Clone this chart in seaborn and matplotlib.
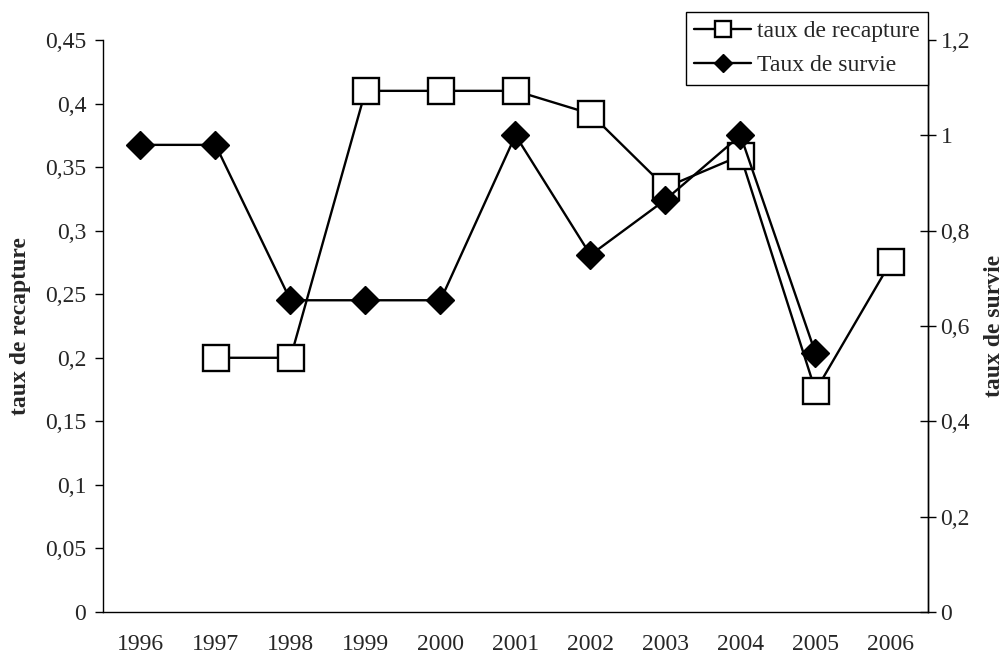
import numpy as np
import pandas as pd
import matplotlib
matplotlib.use("Agg")
import matplotlib.pyplot as plt
from matplotlib.ticker import FixedLocator
from matplotlib.lines import Line2D
import seaborn as sns

years = ["1996", "1997", "1998", "1999", "2000", "2001", "2002", "2003", "2004", "2005", "2006"]
recapture = [np.nan, 0.20, 0.20, 0.41, 0.41, 0.41, 0.392, 0.334, 0.359, 0.174, 0.275]
survie = [0.98, 0.98, 0.654, 0.654, 0.654, 1.0, 0.749, 0.865, 1.0, 0.543, np.nan]

left_ticks = [0, 0.05, 0.1, 0.15, 0.2, 0.25, 0.3, 0.35, 0.4, 0.45]
left_labels = ["0", "0,05", "0,1", "0,15", "0,2", "0,25", "0,3", "0,35", "0,4", "0,45"]
right_ticks = [0, 0.2, 0.4, 0.6, 0.8, 1.0, 1.2]
right_labels = ["0", "0,2", "0,4", "0,6", "0,8", "1", "1,2"]

sns.set_style("white")
plt.rcParams["font.family"] = ["Liberation Serif", "DejaVu Serif"]

FS = 17

df = pd.DataFrame({"pos": np.arange(len(years)), "year": years,
                   "recapture": recapture, "survie": survie})

fig = plt.figure(figsize=(10.06, 6.59), dpi=100)
ax = fig.add_axes([103 / 1006, 1 - 612 / 659, (928 - 103) / 1006, (612 - 40) / 659])
ax2 = ax.twinx()

d1 = df.dropna(subset=["recapture"])
sns.lineplot(data=d1, x="pos", y="recapture", ax=ax, color="black", linewidth=1.7,
             marker="s", markersize=19, markerfacecolor="white", markeredgecolor="black",
             markeredgewidth=1.7, legend=False)
d2 = df.dropna(subset=["survie"])
sns.lineplot(data=d2, x="pos", y="survie", ax=ax2, color="black", linewidth=1.7,
             marker="D", markersize=14.5, markerfacecolor="black", markeredgecolor="black",
             markeredgewidth=1.0, legend=False)

ax.set_xlim(-0.5, len(years) - 0.5)
ax.set_ylim(0, 0.45)
ax2.set_ylim(0, 1.2)

ax.xaxis.set_major_locator(FixedLocator(list(range(len(years)))))
ax.set_xticklabels(years, fontsize=FS)
ax.xaxis.set_minor_locator(FixedLocator([i - 0.5 for i in range(len(years) + 1)]))
ax.tick_params(axis="x", which="major", length=0, pad=16)
ax.tick_params(axis="x", which="minor", length=6, width=1, direction="out", color="black")

ax.yaxis.set_major_locator(FixedLocator(left_ticks))
ax.set_yticklabels(left_labels, fontsize=FS)
ax.tick_params(axis="y", length=6, width=1, direction="out", color="black", left=True, pad=6)

ax2.yaxis.set_major_locator(FixedLocator(right_ticks))
ax2.set_yticklabels(right_labels, fontsize=FS)
ax2.tick_params(axis="y", length=12, width=1, direction="inout", color="black", right=True, pad=3)

for a in (ax, ax2):
    a.spines["top"].set_visible(False)
    for s in ("left", "bottom", "right"):
        a.spines[s].set_color("black")
        a.spines[s].set_linewidth(1.0)
    a.grid(False)
ax2.spines["left"].set_visible(False)
ax2.spines["bottom"].set_visible(False)

ax.set_xlabel("")
ax.set_ylabel("taux de recapture", fontsize=FS, fontweight="bold", labelpad=10)
ax2.set_ylabel("taux de survie", fontsize=FS, fontweight="bold", labelpad=10)

h1 = Line2D([], [], color="black", linewidth=1.7, marker="s", markersize=11,
            markerfacecolor="white", markeredgecolor="black", markeredgewidth=1.7)
h2 = Line2D([], [], color="black", linewidth=1.7, marker="D", markersize=9,
            markerfacecolor="black", markeredgecolor="black")
leg = ax2.legend([h1, h2], ["taux de recapture", "Taux de survie"], loc="upper right",
                 bbox_to_anchor=(928 / 1006, 1 - 12 / 659), bbox_transform=fig.transFigure,
                 fontsize=FS, frameon=True, fancybox=False, framealpha=1, edgecolor="black",
                 handlelength=2.4, handletextpad=0.25, borderpad=0.35, labelspacing=0.55,
                 borderaxespad=0)
leg.get_frame().set_linewidth(1.0)

fig.savefig("out.png", dpi=100, facecolor="white")
